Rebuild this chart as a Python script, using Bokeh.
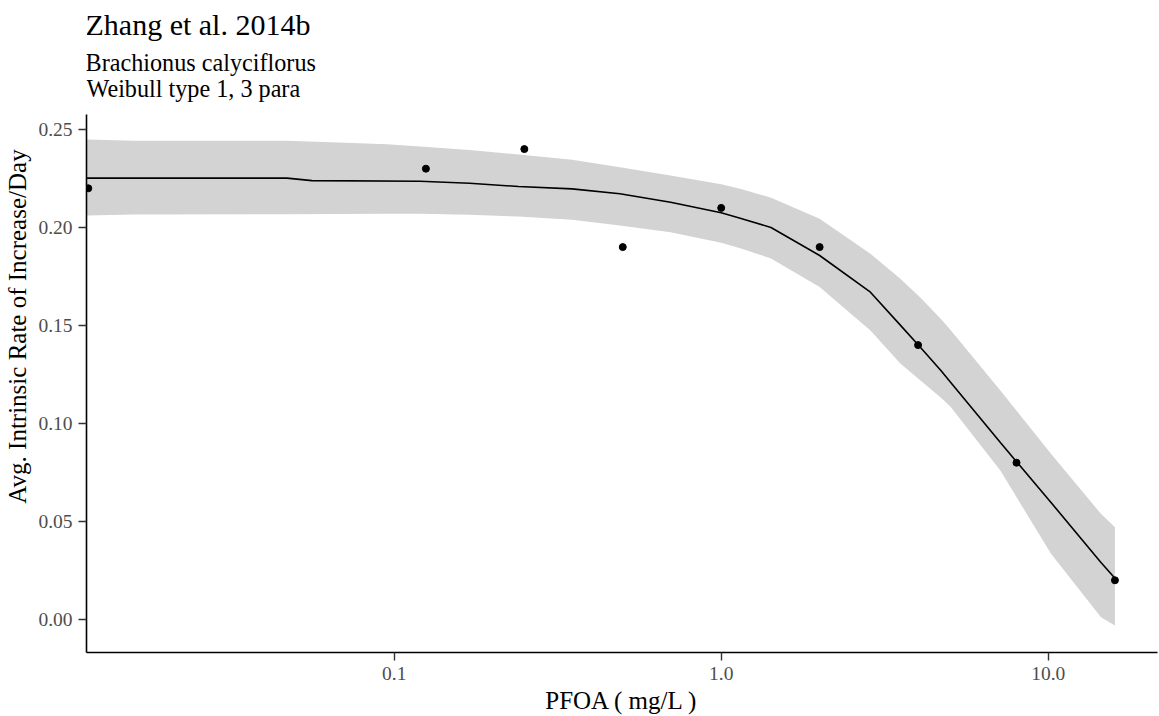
import math
from bokeh.plotting import figure
from bokeh.models import Range1d, FixedTicker, PrintfTickFormatter, Label, ColumnDataSource
from bokeh.embed import file_html
from bokeh.resources import INLINE

# ---- data ----
dose_pts = [0.0116, 0.125, 0.25, 0.5, 1.0, 2.0, 4.0, 8.0, 16.0]
rate_pts = [0.22, 0.23, 0.24, 0.19, 0.21, 0.19, 0.14, 0.08, 0.02]

curve_dose = [0.0115, 0.047, 0.056, 0.12, 0.17, 0.24, 0.35, 0.49, 0.70, 1.0, 1.15,
              1.42, 2.0, 2.86, 3.53, 4.07, 4.69, 5.02, 7.14, 10.2, 14.5, 16.0]
curve_rate = [0.2252, 0.2252, 0.2239, 0.2236, 0.2226, 0.2209, 0.2197, 0.2172, 0.2129,
              0.2075, 0.2046, 0.2000, 0.1857, 0.1670, 0.1502, 0.1388, 0.1272, 0.1212,
              0.0903, 0.0597, 0.0291, 0.0210]

band_dose = [0.0115, 0.016, 0.047, 0.064, 0.095, 0.12, 0.17, 0.24, 0.35, 0.49, 0.70,
             1.0, 1.15, 1.42, 2.0, 2.86, 3.53, 4.07, 4.69, 5.02, 7.14, 10.2, 14.5, 16.0]
band_upper = [0.2449, 0.2442, 0.2442, 0.2435, 0.2425, 0.2413, 0.2396, 0.2372, 0.2345,
              0.2308, 0.2265, 0.2220, 0.2196, 0.2152, 0.2044, 0.1866, 0.1738, 0.1641,
              0.1534, 0.1478, 0.1168, 0.0845, 0.0539, 0.0471]
band_lower = [0.2061, 0.2066, 0.2068, 0.2069, 0.2070, 0.2070, 0.2065, 0.2056, 0.2039,
              0.2010, 0.1976, 0.1922, 0.1893, 0.1842, 0.1696, 0.1474, 0.1306, 0.1219,
              0.1133, 0.1087, 0.0760, 0.0335, 0.0012, -0.0031]

x_ticks = [0.1, 1.0, 10.0]
y_ticks = [0.0, 0.05, 0.10, 0.15, 0.20, 0.25]

title_text = "Zhang et al. 2014b"
subtitle_1 = "Brachionus calyciflorus"
subtitle_2 = "Weibull type 1, 3 para"
x_title = "PFOA ( mg/L )"
y_title = "Avg. Intrinsic Rate of Increase/Day"

# ---- layout ----
X_LO, X_HI = 0.011455, 21.59          # panel x limits
Y_LO, Y_HI = -0.01684, 0.25765        # panel y limits (axis line extent)
PX_PER_UNIT = 1960.0                  # vertical scale (px per data unit)
FRAME_BOTTOM = 652                    # picture y of x axis
Y_TOP = Y_LO + FRAME_BOTTOM / PX_PER_UNIT   # frame reaches canvas top so titles are not clipped
SERIF = "Liberation Serif"

def ypix(py):
    return Y_LO + (FRAME_BOTTOM - py) / PX_PER_UNIT

p = figure(width=1159, height=716, x_axis_type="log",
           x_range=Range1d(X_LO, X_HI), y_range=Range1d(Y_LO, Y_TOP),
           output_backend="svg", toolbar_location=None,
           min_border_left=86, min_border_right=2, min_border_top=0, min_border_bottom=64)
p.title.text = ""
p.title.visible = False
p.outline_line_color = None
p.xgrid.visible = False
p.ygrid.visible = False
p.background_fill_color = "white"
p.border_fill_color = "white"

band = ColumnDataSource(dict(x=band_dose, lo=band_lower, hi=band_upper))
p.varea(x="x", y1="lo", y2="hi", source=band, fill_color="#D3D3D3")

cur = ColumnDataSource(dict(x=curve_dose, y=curve_rate))
p.line(x="x", y="y", source=cur, line_color="black", line_width=1.6)

pts = ColumnDataSource(dict(x=dose_pts, y=rate_pts))
p.scatter(x="x", y="y", source=pts, size=7, fill_color="black", line_color="black")

for ax in (p.xaxis[0], p.yaxis[0]):
    ax.axis_line_color = "black"
    ax.axis_line_width = 1.6
    ax.major_tick_line_color = "#333333"
    ax.major_tick_line_width = 1.4
    ax.major_tick_out = 8
    ax.major_tick_in = 0
    ax.minor_tick_line_color = None
    ax.major_label_text_font = SERIF
    ax.major_label_text_font_size = "19.5px"
    ax.major_label_text_color = "#4D4D4D"
    ax.major_label_standoff = 6
    ax.axis_label_text_font = SERIF
    ax.axis_label_text_font_size = "25px"
    ax.axis_label_text_font_style = "normal"
    ax.axis_label_text_color = "black"

p.xaxis[0].ticker = FixedTicker(ticks=x_ticks, minor_ticks=[])
p.xaxis[0].formatter = PrintfTickFormatter(format="%.1f")
p.yaxis[0].ticker = FixedTicker(ticks=y_ticks, minor_ticks=[])
p.yaxis[0].formatter = PrintfTickFormatter(format="%.2f")
p.yaxis[0].bounds = (Y_LO, Y_HI)
p.xaxis[0].axis_label = x_title
p.xaxis[0].axis_label_standoff = 4
p.yaxis[0].axis_label = y_title
p.yaxis[0].axis_label_standoff = 4

for txt, base_py, size, dx in [(title_text, 23.5, "30px", -1),
                               (subtitle_1, 62.0, "24.2px", -1),
                               (subtitle_2, 88.0, "24.2px", 0)]:
    p.add_layout(Label(x=X_LO, y=ypix(base_py), x_offset=dx, text=txt,
                       text_font=SERIF, text_font_size=size, text_color="black",
                       text_align="left", text_baseline="alphabetic"))

open("out.html", "w").write(file_html(p, INLINE))
